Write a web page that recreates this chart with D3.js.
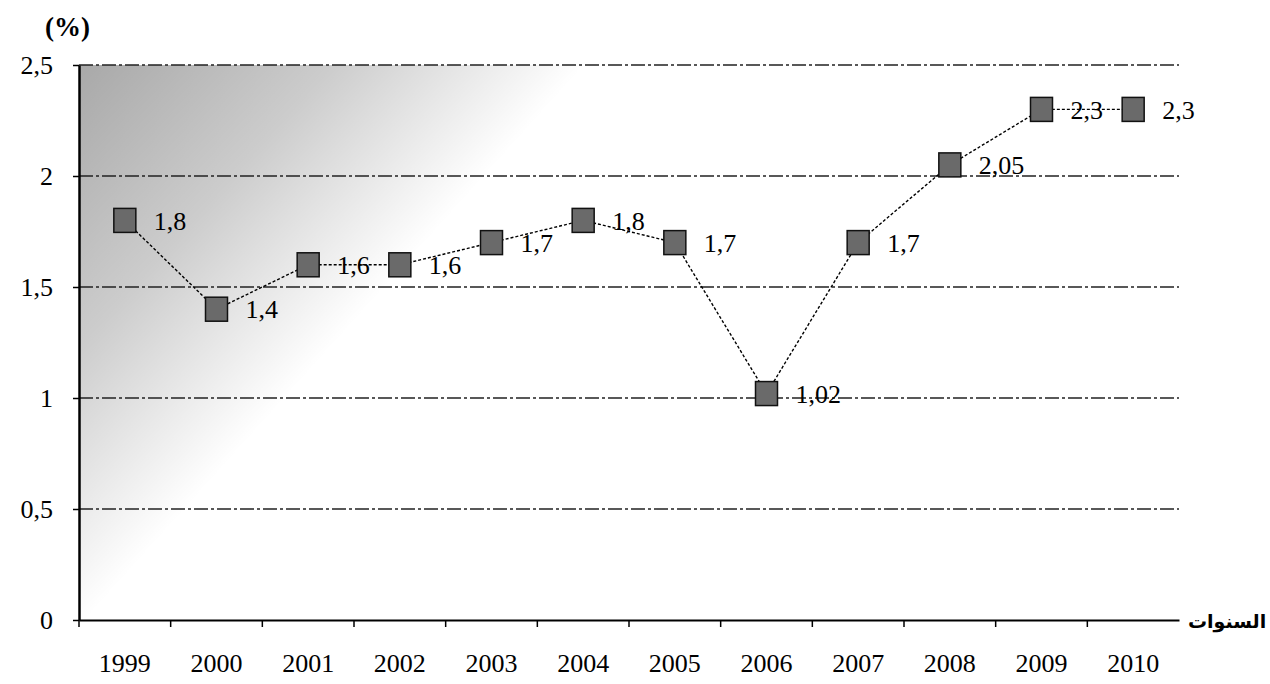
<!DOCTYPE html>
<html>
<head>
<meta charset="utf-8">
<script src="https://cdn.jsdelivr.net/npm/d3@7"></script>
<style>
  html, body { margin: 0; padding: 0; background: #fff; }
  svg { display: block; }
</style>
</head>
<body>
<svg id="chart" width="1270" height="684"></svg>
<script>
const years = ["1999","2000","2001","2002","2003","2004","2005","2006","2007","2008","2009","2010"];
const values = [1.8, 1.4, 1.6, 1.6, 1.7, 1.8, 1.7, 1.02, 1.7, 2.05, 2.3, 2.3];
const valueLabels = ["1,8","1,4","1,6","1,6","1,7","1,8","1,7","1,02","1,7","2,05","2,3","2,3"];
const yTicks = [0, 0.5, 1, 1.5, 2, 2.5];
const yTickLabels = ["0","0,5","1","1,5","2","2,5"];
const yUnit = "(%)";
const xTitle = "السنوات";

(function () {
const svg = d3.select("#chart");
svg.append("rect").attr("width", 1270).attr("height", 684).attr("fill", "#fff");

const mLeft = 79, mRight = 1179, mTop = 65, mBottom = 620;
const x = d3.scaleBand().domain(years).range([mLeft, mRight]);
const y = d3.scaleLinear().domain([0, 2.5]).range([mBottom, mTop]);
const cx = d => x(d) + x.bandwidth() / 2;

// scanned-texture shading in the upper left of the plot (triangular fade)
const defs = svg.append("defs");
const lg = defs.append("linearGradient").attr("id", "shade")
  .attr("gradientUnits", "userSpaceOnUse")
  .attr("x1", mLeft).attr("y1", mTop).attr("x2", mLeft + 280).attr("y2", mTop + 252);
lg.append("stop").attr("offset", "0%").attr("stop-color", "#000").attr("stop-opacity", 0.34);
lg.append("stop").attr("offset", "50%").attr("stop-color", "#000").attr("stop-opacity", 0.2);
lg.append("stop").attr("offset", "100%").attr("stop-color", "#000").attr("stop-opacity", 0);
svg.append("rect").attr("x", mLeft).attr("y", mTop).attr("width", 520).attr("height", mBottom - mTop)
  .attr("fill", "url(#shade)");

// gridlines
svg.append("g").selectAll("line").data(yTicks.filter(d => d > 0)).join("line")
  .attr("x1", mLeft).attr("x2", mRight)
  .attr("y1", d => y(d)).attr("y2", d => y(d))
  .attr("stroke", "#222").attr("stroke-width", 1.6)
  .attr("stroke-dasharray", "14 3 3 3");

// y axis
const yAxis = svg.append("g").attr("transform", `translate(${mLeft},0)`)
  .call(d3.axisLeft(y).tickValues(yTicks).tickFormat((d, i) => yTickLabels[i])
    .tickSize(6).tickSizeOuter(0).tickPadding(20));
yAxis.select(".domain").attr("stroke", "#000").attr("stroke-width", 2.5);
yAxis.selectAll(".tick line").attr("stroke", "#000").attr("stroke-width", 1.5);
yAxis.selectAll("text").attr("font-family", "Liberation Serif, serif").attr("font-size", 26).attr("fill", "#000");

// x axis
const xAxis = svg.append("g").attr("transform", `translate(0,${mBottom})`)
  .call(d3.axisBottom(x).tickSize(0).tickSizeOuter(0).tickPadding(34));
xAxis.select(".domain").attr("stroke", "#000").attr("stroke-width", 2);
xAxis.selectAll("text").attr("font-family", "Liberation Serif, serif").attr("font-size", 26).attr("fill", "#000");
xAxis.selectAll("line.bound").data(years).join("line").attr("class", "bound")
  .attr("x1", d => x(d)).attr("x2", d => x(d))
  .attr("y1", 0).attr("y2", 7).attr("stroke", "#000").attr("stroke-width", 1.5);

// line
const line = d3.line().x((d, i) => cx(years[i])).y(d => y(d));
svg.append("path").datum(values).attr("d", line)
  .attr("fill", "none").attr("stroke", "#000").attr("stroke-width", 1.4)
  .attr("stroke-dasharray", "3 2");

// markers
svg.append("g").selectAll("rect").data(values).join("rect")
  .attr("x", (d, i) => cx(years[i]) - 11).attr("y", d => y(d) - 12)
  .attr("width", 22).attr("height", 24)
  .attr("fill", "#6a6a6a").attr("stroke", "#111").attr("stroke-width", 1.5);

// data labels
svg.append("g").selectAll("text").data(values).join("text")
  .attr("x", (d, i) => cx(years[i]) + 29).attr("y", d => y(d))
  .attr("dy", "0.35em")
  .attr("font-family", "Liberation Serif, serif").attr("font-size", 26).attr("fill", "#000")
  .text((d, i) => valueLabels[i]);

// unit label
svg.append("text").attr("x", 45).attr("y", 36)
  .attr("font-family", "Liberation Serif, serif").attr("font-size", 27).attr("font-weight", "bold")
  .text(yUnit);

// x title
svg.append("text").attr("x", 1188).attr("y", 628)
  .attr("font-family", "DejaVu Sans, sans-serif").attr("font-size", 19).attr("font-weight", "bold")
  .text(xTitle);
})();
</script>
</body>
</html>
